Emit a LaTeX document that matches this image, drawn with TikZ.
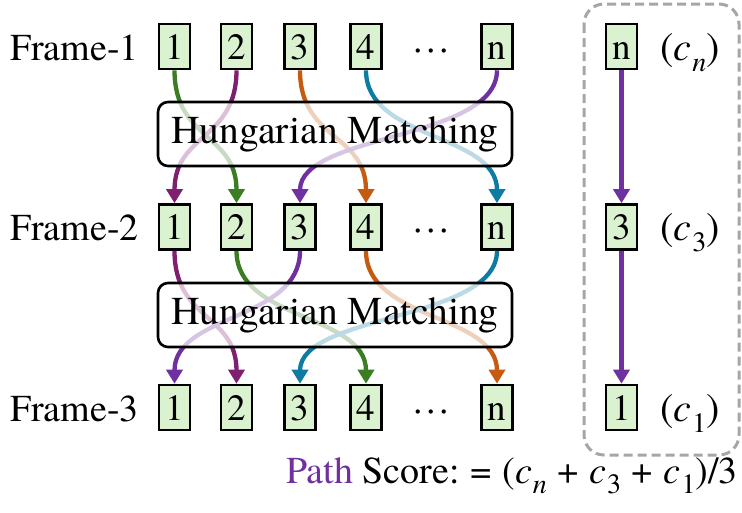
\documentclass[tikz,border=0pt]{standalone}
\usepackage{fontspec}
\setmainfont{texgyretermes}[Extension=.otf, UprightFont=*-regular,
  ItalicFont=*-italic, BoldFont=*-bold, BoldItalicFont=*-bolditalic]
\usetikzlibrary{arrows.meta}

\definecolor{cellfill}{HTML}{DAF2D0}
\definecolor{cgreen}{HTML}{3B7D23}
\definecolor{cplum}{HTML}{7E1F6F}
\definecolor{cpurple}{HTML}{7030A0}
\definecolor{corange}{HTML}{C55A11}
\definecolor{cblue}{HTML}{0E7BA3}
\definecolor{dashgray}{HTML}{A6A6A6}

% italic c with a lowered subscript
\newcommand\cvar[1]{\textit{c}\kern0.02em\raisebox{-0.28em}{\fontsize{28}{28}\selectfont #1}}
% binary operator with wide spacing
\newcommand\binop[1]{\hspace{0.28em}#1\hspace{0.28em}}

\begin{document}
\begin{tikzpicture}[x=1pt,y=-1pt,
  cell/.style={draw=black, line width=2.6pt, fill=cellfill,
    minimum width=31pt, minimum height=45pt, inner sep=0pt,
    text height=25pt, text depth=0pt, font=\fontsize{37}{37}\selectfont},
  lbl/.style={font=\fontsize{38}{38}\selectfont, inner sep=0pt},
  score/.style={font=\fontsize{40}{40}\selectfont, inner sep=0pt},
  link/.style={line width=4.3pt, -{Triangle[length=14pt,width=16pt]}},
  hm/.style={draw=black, line width=2.6pt, rounded corners=10pt,
    fill=white, fill opacity=0.72, text opacity=1,
    minimum width=354pt, minimum height=64pt, inner sep=0pt,
    font=\fontsize{39.5}{40}\selectfont},
  pathbox/.style={draw=dashgray, line width=3pt, rounded corners=20pt,
    dash pattern=on 9pt off 5pt}]

\useasboundingbox (0,0) rectangle (742,512);

% frame rows of candidate cells
\foreach \r/\y in {1/46.5, 2/227, 3/407.5} {
  \node[lbl, anchor=base east] (lab\r) at (139,\y+13.5) {Frame-\r};
  \node[cell] (f\r-1) at (174.5,\y) {1};
  \node[cell] (f\r-2) at (236.5,\y) {2};
  \node[cell] (f\r-3) at (300,\y) {3};
  \node[cell] (f\r-4) at (366,\y) {4};
  \node[lbl, anchor=base] (dots\r) at (431,\y+13.5) {\textperiodcentered\hspace{3.5pt}\textperiodcentered\hspace{3.5pt}\textperiodcentered};
  \node[cell] (f\r-n) at (497,\y) {n};
}

% matches between frame 1 and frame 2
\draw[link,cgreen]  (f1-1.south) .. controls +(0,70) and +(0,-70) .. (f2-2.north);
\draw[link,cplum]   (f1-2.south) .. controls +(0,70) and +(0,-70) .. (f2-1.north);
\draw[link,corange] (f1-3.south) .. controls +(0,70) and +(0,-70) .. (f2-4.north);
\draw[link,cblue]   (f1-4.south) .. controls +(0,70) and +(0,-70) .. (f2-n.north);
\draw[link,cpurple] (f1-n.south) .. controls +(0,70) and +(0,-70) .. (f2-3.north);

% matches between frame 2 and frame 3
\draw[link,cplum]   (f2-1.south) .. controls +(0,70) and +(0,-70) .. (f3-2.north);
\draw[link,cgreen]  (f2-2.south) .. controls +(0,70) and +(0,-70) .. (f3-4.north);
\draw[link,cpurple] (f2-3.south) .. controls +(0,70) and +(0,-70) .. (f3-1.north);
\draw[link,corange] (f2-4.south) .. controls +(0,70) and +(0,-70) .. (f3-n.north);
\draw[link,cblue]   (f2-n.south) .. controls +(0,70) and +(0,-70) .. (f3-3.north);

% matching stages, drawn over the links
\node[hm] (hm1) at (335,134) {Hungarian Matching};
\node[hm] (hm2) at (335,315) {Hungarian Matching};

% one selected path
\draw[pathbox] (584,4) rectangle (739,455);
\node[cell] (p1) at (621.5,46.5) {n};
\node[cell] (p2) at (621.5,227) {3};
\node[cell] (p3) at (621.5,407.5) {1};
\draw[link,cpurple] (p1.south) -- (p2.north);
\draw[link,cpurple] (p2.south) -- (p3.north);
\node[score, anchor=base] (s1) at (690,60) {(\cvar{\textit{n}})};
\node[score, anchor=base] (s2) at (690,240.5) {(\cvar{3})};
\node[score, anchor=base] (s3) at (690,421) {(\cvar{1})};

\node[lbl, anchor=base east] (total) at (738,483)
  {\textcolor{cpurple}{Path} Score:\binop{=}(\cvar{\textit{n}}\binop{+}\cvar{3}\binop{+}\cvar{1})/3};
\end{tikzpicture}
\end{document}
